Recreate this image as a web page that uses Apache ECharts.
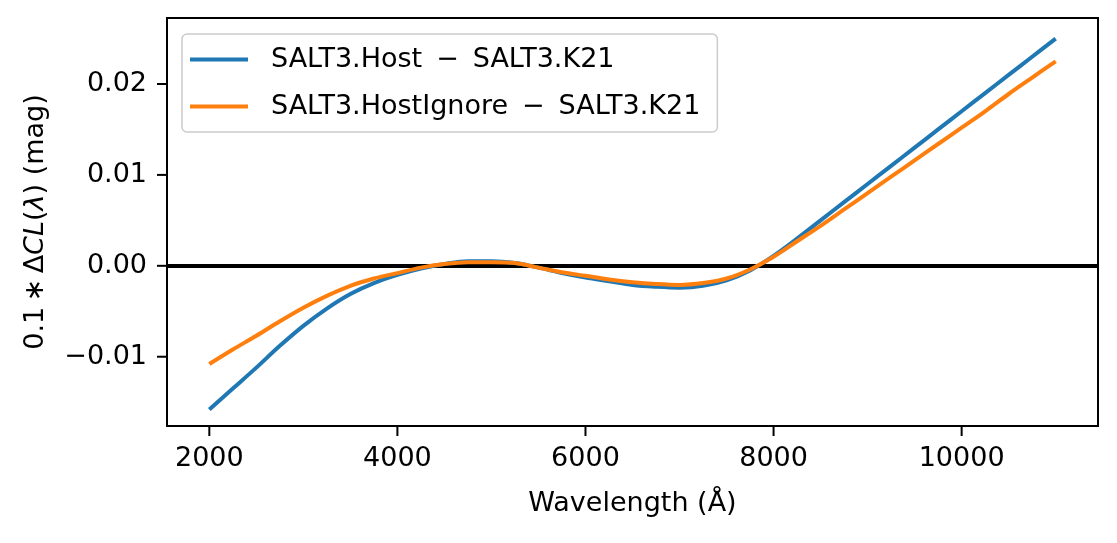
<!DOCTYPE html>
<html>
<head>
<meta charset="utf-8">
<script src="https://cdn.jsdelivr.net/npm/echarts@6/dist/echarts.min.js"></script>
<style>html,body{margin:0;padding:0;background:#fff}#c{width:1117px;height:543px}</style>
</head>
<body>
<div id="c"></div>
<script>
const wavelength = [2000,2250,2500,2750,3000,3250,3500,3750,4000,4250,4500,4750,5000,5250,5500,5750,6000,6250,6500,6750,7000,7250,7500,7750,8000,8250,8500,8750,9000,9250,9500,9750,10000,10250,10500,10750,11000];
const hostDiff = [-0.0158,-0.0135,-0.0112,-0.0088,-0.0066,-0.0047,-0.0031,-0.0019,-0.0010,-0.0003,0.0002,0.0005,0.0005,0.0003,-0.0002,-0.0008,-0.0013,-0.0017,-0.0021,-0.0023,-0.0024,-0.0022,-0.0016,-0.0005,0.0011,0.0030,0.0050,0.0070,0.0090,0.0110,0.0130,0.0150,0.0170,0.0190,0.0210,0.0230,0.0250];
const hostIgnoreDiff = [-0.0108,-0.0092,-0.0077,-0.0061,-0.0046,-0.0033,-0.0022,-0.0014,-0.0008,-0.0002,0.0002,0.0004,0.0004,0.0003,-0.0002,-0.0007,-0.0011,-0.0015,-0.0018,-0.0020,-0.0021,-0.0019,-0.0014,-0.0004,0.0010,0.0027,0.0044,0.0062,0.0080,0.0098,0.0116,0.0134,0.0152,0.0170,0.0189,0.0207,0.0225];
const xTicks = [2000,4000,6000,8000,10000];
const yTicks = [-0.01,0,0.01,0.02];
const seriesNames = ['SALT3.Host\u2009 \u2212 \u2009SALT3.K21','SALT3.HostIgnore\u2009 \u2212 \u2009SALT3.K21'];

const X_MIN = 1550, X_MAX = 11450, Y_MIN = -0.01762, Y_MAX = 0.02726;
const F = 'DejaVu Sans';
const FS = 27;
const TICK_LEN = 10;
const chart = echarts.init(document.getElementById('c'), null, {renderer:'canvas'});
const toPairs = ys => wavelength.map((x,i)=>[x, ys[i]]);
chart.setOption({
  animation:false,
  backgroundColor:'#fff',
  textStyle:{fontFamily:F},
  grid:{left:167, right:19, top:18, bottom:117, show:true, borderColor:'#000', borderWidth:2, backgroundColor:'transparent'},
  legend:{
    orient:'vertical', left:182, top:34,
    backgroundColor:'rgba(255,255,255,0.8)', borderColor:'#cccccc', borderWidth:1.5, borderRadius:5,
    padding:[12,17,12,8], itemGap:20, itemWidth:58, itemHeight:4,
    textStyle:{fontFamily:F, fontSize:FS, color:'#000', padding:[0,0,0,18]},
    data:[{name:seriesNames[0], icon:'rect'},{name:seriesNames[1], icon:'rect'}]
  },
  xAxis:{
    type:'value', min:X_MIN, max:X_MAX,
    name:'Wavelength (\u00c5)', nameLocation:'middle', nameGap:64,
    nameTextStyle:{fontFamily:F, fontSize:FS, color:'#000'},
    splitLine:{show:false},
    axisLine:{show:true, onZero:false, lineStyle:{color:'#000', width:2}},
    axisTick:{show:false},
    axisLabel:{fontFamily:F, fontSize:FS, color:'#000', margin:19, customValues:xTicks, formatter:v=>String(v)}
  },
  yAxis:{
    type:'value', min:Y_MIN, max:Y_MAX,
    name:'{n|0.1\u2009\u2217\u2009\u0394}{i|CL}{n|(}{i|\u03bb}{n|) (mag)}', nameLocation:'middle', nameGap:118,
    nameTextStyle:{fontFamily:F, fontSize:FS, color:'#000', rich:{n:{fontFamily:F,fontSize:FS,color:'#000'}, i:{fontFamily:F,fontSize:FS,color:'#000',fontStyle:'italic'}}},
    splitLine:{show:false},
    axisLine:{show:true, onZero:false, lineStyle:{color:'#000', width:2}},
    axisTick:{show:false},
    axisLabel:{fontFamily:F, fontSize:FS, color:'#000', margin:20, customValues:yTicks,
      formatter:v=>{ if (Math.abs(v)<1e-12) return '0.00'; return (v<0?'\u2212':'')+Math.abs(v).toFixed(2); }}
  },
  series:[
    {name:seriesNames[0], type:'line', data:toPairs(hostDiff), symbol:'none', smooth:0.35, z:3,
     lineStyle:{color:'#1f77b4', width:4}, itemStyle:{color:'#1f77b4'},
     markLine:{silent:true, symbol:'none', label:{show:false}, lineStyle:{color:'#000', width:4, type:'solid'}, data:[{yAxis:0}], z:2}},
    {name:seriesNames[1], type:'line', data:toPairs(hostIgnoreDiff), symbol:'none', smooth:0.35, z:4,
     lineStyle:{color:'#ff7f0e', width:4}, itemStyle:{color:'#ff7f0e'}}
  ]
});

// Tick marks: positions come from the chart's own scales via convertToPixel.
const tickGraphics = [];
xTicks.forEach(v => {
  const p = chart.convertToPixel({gridIndex:0}, [v, Y_MIN]);
  if (p) tickGraphics.push({type:'line', silent:true, z:100,
    shape:{x1:p[0], y1:p[1], x2:p[0], y2:p[1] + TICK_LEN}, style:{stroke:'#000', lineWidth:2}});
});
yTicks.forEach(v => {
  const p = chart.convertToPixel({gridIndex:0}, [X_MIN, v]);
  if (p) tickGraphics.push({type:'line', silent:true, z:100,
    shape:{x1:p[0] - TICK_LEN, y1:p[1], x2:p[0], y2:p[1]}, style:{stroke:'#000', lineWidth:2}});
});
chart.setOption({graphic:{elements:tickGraphics}});
</script>
</body>
</html>
